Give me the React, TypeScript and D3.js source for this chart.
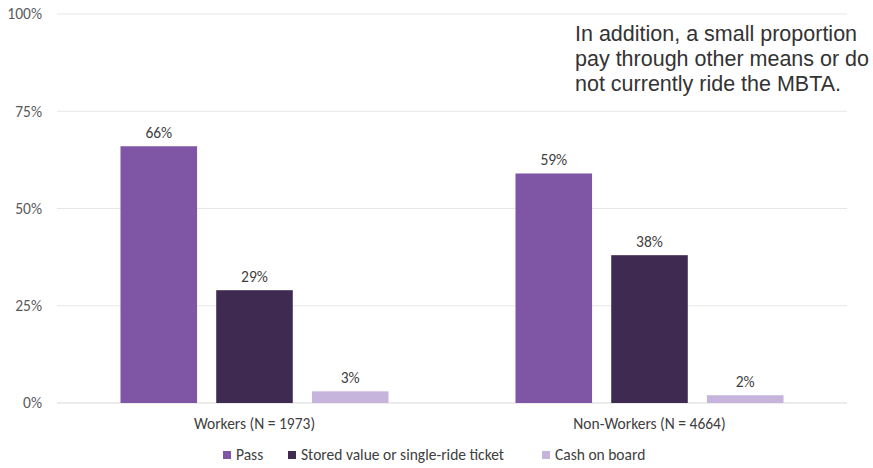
import React from "react";
import * as d3 from "d3";

const categories = ["Workers (N = 1973)", "Non-Workers (N = 4664)"];
const seriesNames = ["Pass", "Stored value or single-ride ticket", "Cash on board"];
const passValues = [66, 59];
const storedValues = [29, 38];
const cashValues = [3, 2];
const yTicks = [0, 25, 50, 75, 100];
const noteLines = [
  "In addition, a small proportion",
  "pay through other means or do",
  "not currently ride the MBTA.",
];

const colors = ["#7f55a5", "#3f2b52", "#c6b4dc"];
const W = 873, H = 468;
const margin = { left: 57, right: 26, top: 14, bottom: 65 };
const font = "Carlito, Calibri, Lato, 'Open Sans', sans-serif";
const fs = 15.5;

export default function App() {
  const series = [passValues, storedValues, cashValues];
  const x0 = d3.scaleBand().domain(categories).range([margin.left, W - margin.right]).paddingInner(0).paddingOuter(0);
  const y = d3.scaleLinear().domain([0, 100]).range([H - margin.bottom, margin.top]);
  const groupW = 268;
  const x1 = d3.scaleBand().domain(seriesNames).range([0, groupW]).paddingInner(0.2);
  const legendX = [223, 288, 542];
  return (
    <svg width={W} height={H} style={{ position: "absolute", left: 0, top: 0, background: "#fff" }}>
      {yTicks.map((t) => (
        <g key={t}>
          <line x1={margin.left} x2={W - margin.right} y1={y(t)} y2={y(t)} stroke={t === 0 ? "#d9d9d9" : "#e6e6e6"} strokeWidth={1} />
          <text x={42} y={y(t)} dy="0.35em" textAnchor="end" fontFamily={font} fontSize={fs} fill="#595959">{t}%</text>
        </g>
      ))}
      {categories.map((c, ci) => {
        const gx = (x0(c) as number) + x0.bandwidth() / 2 - groupW / 2;
        return (
          <g key={c}>
            {seriesNames.map((s, si) => {
              const v = series[si][ci];
              const bx = gx + (x1(s) as number);
              return (
                <g key={s}>
                  <rect x={bx} y={y(v)} width={x1.bandwidth()} height={y(0) - y(v)} fill={colors[si]} />
                  <text x={bx + x1.bandwidth() / 2} y={y(v) - 8} textAnchor="middle" fontFamily={font} fontSize={fs} fill="#404040">{v}%</text>
                </g>
              );
            })}
            <text x={(x0(c) as number) + x0.bandwidth() / 2} y={429} textAnchor="middle" fontFamily={font} fontSize={fs} fill="#404040">{c}</text>
          </g>
        );
      })}
      {seriesNames.map((s, si) => (
        <g key={s}>
          <rect x={legendX[si]} y={451} width={8} height={8} fill={colors[si]} />
          <text x={legendX[si] + 13} y={460} fontFamily={font} fontSize={fs} fill="#404040">{s}</text>
        </g>
      ))}
      {noteLines.map((l, i) => (
        <text key={i} x={575} y={41 + i * 25} fontFamily="'Liberation Sans', Arial, sans-serif" fontSize={21.5} fill="#333">{l}</text>
      ))}
    </svg>
  );
}
